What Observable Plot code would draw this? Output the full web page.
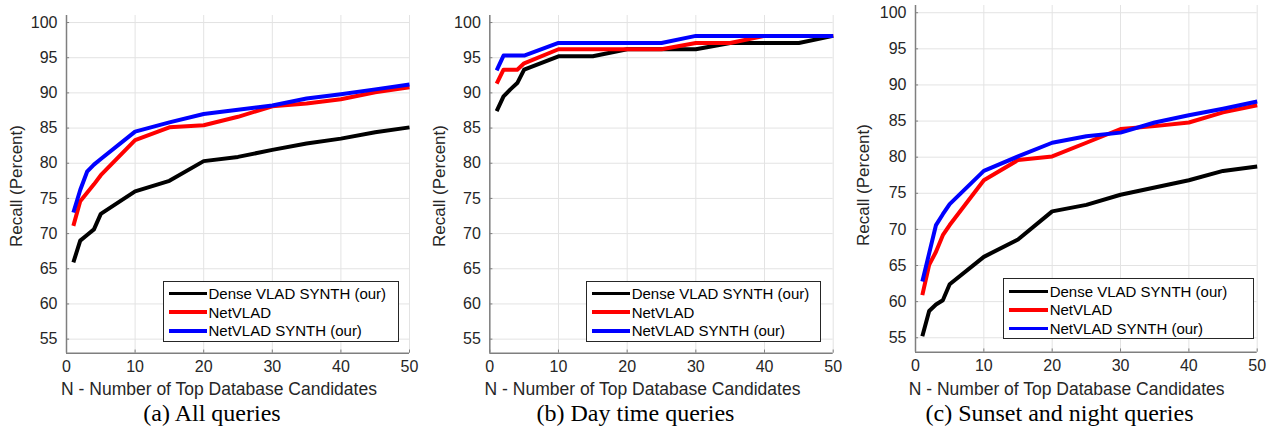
<!DOCTYPE html>
<html>
<head>
<meta charset="utf-8">
<script src="https://cdn.jsdelivr.net/npm/d3@7"></script>
<script src="https://cdn.jsdelivr.net/npm/@observablehq/plot@0.6"></script>
<style>
  html, body { margin: 0; padding: 0; background: #fff; }
  #root { position: relative; width: 1273px; height: 428px; overflow: hidden; font-family: "Liberation Sans", Arial, Helvetica, sans-serif; color: #262626; }
  .panel { position: absolute; top: 0; }
  .ylab { position: absolute; font-size: 17px; white-space: nowrap; transform: translate(-50%, -50%) rotate(-90deg); }
  .xlab { position: absolute; font-size: 17.5px; white-space: nowrap; transform: translate(-50%, -50%); }
  .cap { position: absolute; font-family: "Liberation Serif", "Times New Roman", serif; font-size: 24px; color: #000; white-space: nowrap; transform: translate(-50%, -50%); }
  .legend { position: absolute; background: #fff; border: 1px solid #262626; box-sizing: border-box; }
  .legend .row { position: absolute; left: 0; height: 18px; display: flex; align-items: center; font-size: 15px; color: #000; white-space: nowrap; }
  .legend .sw { display: inline-block; height: 3.5px; margin-right: 2px; }
</style>
</head>
<body>
<div id="root"></div>
<script>
// ---- data ----
const N = [1, 2, 3, 4, 5, 10, 15, 20, 25, 30, 35, 40, 45, 50];
const seriesNames = ["Dense VLAD SYNTH (our)", "NetVLAD", "NetVLAD SYNTH (our)"];
const seriesColors = ["#000000", "#ff0000", "#0000ff"];
const xTicks = [0, 10, 20, 30, 40, 50];
const yTicks = [55, 60, 65, 70, 75, 80, 85, 90, 95, 100];
const xLabel = "N - Number of Top Database Candidates";
const yLabel = "Recall (Percent)";
const captions = ["(a) All queries", "(b) Day time queries", "(c) Sunset and night queries"];

// (a) All queries
const allDense = [65.9, 69.0, 69.8, 70.6, 72.8, 76.0, 77.5, 80.3, 80.9, 81.9, 82.8, 83.5, 84.4, 85.1];
const allNet   = [71.1, 74.6, 75.8, 77.0, 78.3, 83.3, 85.1, 85.4, 86.6, 88.1, 88.5, 89.1, 90.1, 90.8];
const allSynth = [73.0, 76.2, 78.8, 79.8, 80.6, 84.5, 85.8, 87.0, 87.6, 88.2, 89.2, 89.8, 90.5, 91.2];
// (b) Day time queries
const dayDense = [87.4, 89.5, 90.5, 91.4, 93.3, 95.2, 95.2, 96.2, 96.2, 96.2, 97.1, 97.1, 97.1, 98.1];
const dayNet   = [91.3, 93.3, 93.3, 93.3, 94.2, 96.2, 96.2, 96.2, 96.2, 97.1, 97.1, 98.1, 98.1, 98.1];
const daySynth = [93.2, 95.3, 95.3, 95.3, 95.3, 97.1, 97.1, 97.1, 97.1, 98.1, 98.1, 98.1, 98.1, 98.1];
// (c) Sunset and night queries
const nightDense = [55.2, 58.7, 59.6, 60.2, 62.4, 66.2, 68.6, 72.5, 73.4, 74.8, 75.8, 76.8, 78.1, 78.7];
const nightNet   = [60.9, 65.1, 66.9, 69.2, 70.6, 76.8, 79.6, 80.1, 82.0, 83.9, 84.3, 84.8, 86.2, 87.2];
const nightSynth = [62.8, 66.7, 70.6, 72.1, 73.5, 78.1, 80.1, 82.0, 82.9, 83.4, 84.8, 85.8, 86.7, 87.7];

const yDomain = [53, 101];
const xDomain = [0, 50];

const panels = [
  {series: [allDense, allNet, allSynth], left: 0, width: 420, mL: 66, mR: 11, mT: 15, frameBottom: 352.7,
   ylab: [17, 186], xlab: [219, 389], cap: [212, 413], legend: {x: 162.5, y: 280.5, w: 236, h: 61, sw: 38}},
  {series: [dayDense, dayNet, daySynth], left: 424, width: 420, mL: 65.3, mR: 11.3, mT: 15, frameBottom: 352.7,
   ylab: [440, 186], xlab: [642.5, 389], cap: [635.5, 413], legend: {x: 585.7, y: 280.5, w: 235.5, h: 61, sw: 38}},
  {series: [nightDense, nightNet, nightSynth], left: 849, width: 424, mL: 66, mR: 16.3, mT: 5, frameBottom: 351.7,
   ylab: [864, 185], xlab: [1066.7, 389], cap: [1059.5, 413], legend: {x: 1002.7, y: 278.3, w: 251.5, h: 61, sw: 39}}
];

const root = document.getElementById("root");
const H = 380;

panels.forEach((p, pi) => {
  const lineMarks = p.series.map((arr, si) =>
    Plot.line(N.map((n, i) => ({n, v: arr[i]})), {
      x: "n", y: "v", stroke: seriesColors[si], strokeWidth: 4, strokeLinejoin: "round", strokeLinecap: "butt"
    })
  );
  const chart = Plot.plot({
    width: p.width,
    height: H,
    marginLeft: p.mL,
    marginRight: p.mR,
    marginTop: p.mT,
    marginBottom: H - p.frameBottom,
    style: {fontFamily: '"Liberation Sans", Arial, Helvetica, sans-serif', fontSize: "16px", color: "#262626", background: "transparent", overflow: "visible"},
    x: {domain: xDomain, ticks: xTicks},
    y: {domain: yDomain, ticks: yTicks},
    marks: [
      Plot.gridX(xTicks, {stroke: "#e3e3e3", strokeOpacity: 1, strokeWidth: 1}),
      Plot.gridY(yTicks, {stroke: "#e3e3e3", strokeOpacity: 1, strokeWidth: 1}),
      Plot.ruleX(xTicks, {y1: yDomain[0], y2: yDomain[0] + 0.45, stroke: "#7f7f7f", strokeWidth: 1}),
      Plot.ruleY(yTicks, {x1: xDomain[0], x2: xDomain[0] + 0.45, stroke: "#7f7f7f", strokeWidth: 1}),
      Plot.axisX(xTicks, {tickSize: 0, tickPadding: 7, label: null, fontSize: 16, fill: "#262626"}),
      Plot.axisY(yTicks, {tickSize: 0, tickPadding: 9, label: null, fontSize: 16, fill: "#262626"}),
      ...lineMarks,
      Plot.ruleX([xDomain[0]], {stroke: "#7f7f7f", strokeWidth: 1.5}),
      Plot.ruleY([yDomain[0]], {stroke: "#7f7f7f", strokeWidth: 1.5})
    ]
  });
  const holder = document.createElement("div");
  holder.className = "panel";
  holder.style.left = p.left + "px";
  holder.appendChild(chart);
  root.appendChild(holder);

  const yl = document.createElement("div");
  yl.className = "ylab"; yl.textContent = yLabel;
  yl.style.left = p.ylab[0] + "px"; yl.style.top = p.ylab[1] + "px";
  root.appendChild(yl);

  const xl = document.createElement("div");
  xl.className = "xlab"; xl.textContent = xLabel;
  xl.style.left = p.xlab[0] + "px"; xl.style.top = p.xlab[1] + "px";
  root.appendChild(xl);

  const cap = document.createElement("div");
  cap.className = "cap"; cap.textContent = captions[pi];
  cap.style.left = p.cap[0] + "px"; cap.style.top = p.cap[1] + "px";
  root.appendChild(cap);

  const lg = document.createElement("div");
  lg.className = "legend";
  lg.style.left = p.legend.x + "px"; lg.style.top = p.legend.y + "px";
  lg.style.width = p.legend.w + "px"; lg.style.height = p.legend.h + "px";
  seriesNames.forEach((name, si) => {
    const row = document.createElement("div");
    row.className = "row";
    row.style.top = (3 + si * 18.7) + "px";
    row.style.left = "5px";
    const sw = document.createElement("span");
    sw.className = "sw"; sw.style.width = p.legend.sw + "px"; sw.style.background = seriesColors[si];
    const t = document.createElement("span");
    t.textContent = name;
    row.appendChild(sw); row.appendChild(t);
    lg.appendChild(row);
  });
  root.appendChild(lg);
});
</script>
</body>
</html>
